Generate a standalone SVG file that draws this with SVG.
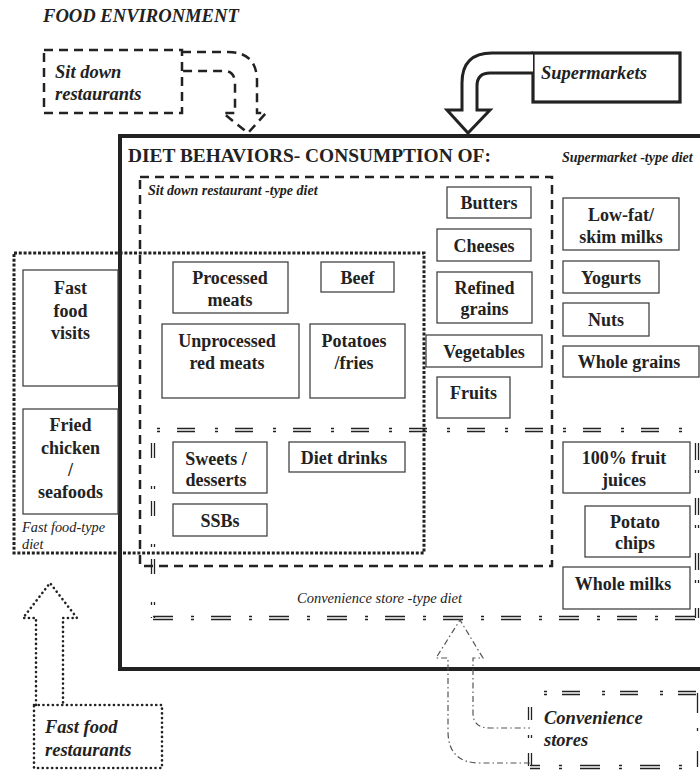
<svg xmlns="http://www.w3.org/2000/svg" width="700" height="771" viewBox="0 0 700 771" font-family="'Liberation Serif', 'DejaVu Serif', serif">
<style>
text{font-family:'Liberation Serif','DejaVu Serif',serif;fill:#222}
.n{font-size:18px;font-weight:bold;text-anchor:middle}
.src{font-size:18.5px;font-weight:bold;font-style:italic}
.lab{font-size:14px;font-weight:bold;font-style:italic}
.labr{font-size:14.5px;font-style:italic}
.box{fill:#fff;stroke:#444;stroke-width:1.3}
.dash{fill:none;stroke:#222;stroke-width:2.5;stroke-dasharray:9 6}
.sq{fill:none;stroke:#222;stroke-width:3;stroke-dasharray:3 1.8}
.rd{fill:none;stroke:#222;stroke-width:2.6;stroke-dasharray:0.1 4.6;stroke-linecap:round}
.dd{fill:none;stroke:#222;stroke-width:1.3}
.ddarrow{fill:none;stroke:#555;stroke-width:1.2;stroke-dasharray:6 3 1.5 3}
</style>

<text x="43" y="22" style="font-size:18.6px;font-weight:bold;font-style:italic">FOOD ENVIRONMENT</text>

<g id="diet-behaviors">
<path d="M700,136 L120,136 L120,669 L700,669" fill="none" stroke="#222" stroke-width="4"/>
<text x="128" y="162" style="font-size:19.4px;font-weight:bold">DIET BEHAVIORS- CONSUMPTION OF:</text>
<text x="562" y="162" class="lab">Supermarket  -type diet</text>
</g>

<g id="sitdown-diet">
<rect x="140" y="177" width="412" height="389" class="dash"/>
<text x="148" y="195" class="lab">Sit down restaurant  -type diet</text>
</g>

<g id="fastfood-diet">
<rect x="14" y="253" width="410" height="300" class="sq"/>
<text x="22" y="532" class="labr" style="font-size:14.3px">Fast food-type</text>
<text x="22" y="549" class="labr" style="font-size:14.3px">diet</text>
</g>

<g id="convenience-diet">
<line x1="157" y1="428.5" x2="697" y2="428.5" class="dd" stroke-dasharray="3 17 18 20"/>
<line x1="157" y1="431.5" x2="697" y2="431.5" class="dd" stroke-dasharray="3 17 18 20"/>
<line x1="153" y1="616.5" x2="698" y2="616.5" class="dd" stroke-dasharray="20 18 3 17"/>
<line x1="153" y1="619.5" x2="698" y2="619.5" class="dd" stroke-dasharray="20 18 3 17"/>
<line x1="151.5" y1="443" x2="151.5" y2="618" class="dd" stroke-dasharray="15 28 3 12"/>
<line x1="154.5" y1="443" x2="154.5" y2="618" class="dd" stroke-dasharray="15 28 3 12"/>
<line x1="695.5" y1="443" x2="695.5" y2="618" class="dd" stroke-dasharray="17 10 3 25"/>
<line x1="698.5" y1="443" x2="698.5" y2="618" class="dd" stroke-dasharray="17 10 3 25"/>
<text x="297" y="603" class="labr">Convenience store  -type diet</text>
</g>

<g id="sitdown-restaurants">
<rect x="44" y="50" width="138" height="63" class="dash"/>
<text x="55" y="78" class="src">Sit down</text>
<text x="55" y="100" class="src">restaurants</text>
</g>

<g id="supermarkets">
<rect x="533" y="53" width="147" height="49" fill="#fff" stroke="#222" stroke-width="3.2"/>
<text x="541" y="79" class="src">Supermarkets</text>
</g>

<g id="fastfood-restaurants">
<rect x="34" y="705" width="128" height="63" class="rd"/>
<text x="45" y="733" class="src">Fast food</text>
<text x="45" y="756" class="src">restaurants</text>
</g>

<g id="convenience-stores">
<line x1="544" y1="691.5" x2="699" y2="691.5" class="dd" stroke-dasharray="3 15 18 22"/>
<line x1="544" y1="694.5" x2="699" y2="694.5" class="dd" stroke-dasharray="3 15 18 22"/>
<line x1="530" y1="765.5" x2="699" y2="765.5" class="dd" stroke-dasharray="20 19 3 18" stroke-dashoffset="10"/>
<line x1="530" y1="768.5" x2="699" y2="768.5" class="dd" stroke-dasharray="20 19 3 18" stroke-dashoffset="10"/>
<line x1="528.5" y1="707" x2="528.5" y2="767" class="dd" stroke-dasharray="13 15 3 15"/>
<line x1="531.5" y1="707" x2="531.5" y2="767" class="dd" stroke-dasharray="13 15 3 15"/>
<line x1="697.5" y1="693" x2="697.5" y2="767" class="dd" stroke-dasharray="20 15 3 20"/>
<text x="544" y="724" class="src">Convenience</text>
<text x="544" y="746" class="src">stores</text>
</g>

<g id="connectors">
<path d="M182,52 L228,52 Q257,52 257,81 L257,113 L266,113 L248,133 L223,113 L235,113 L235,84 Q235,71 224,71 L182,71" class="dash"/>
<path d="M533,53 L492,53 Q462,53 462,83 L462,110 L447,110 L468,133 L490,110 L477,110 L477,86 Q477,73 490,73 L533,73" fill="#fff" stroke="#222" stroke-width="3"/>
<path d="M36,705 L36,618 L23,618 L50,583 L77,618 L63,618 L63,705" class="rd"/>
<path d="M530,763 L480,763 Q448,763 448,731 L448,658 L436,658 L460,620 L483,658 L473,658 L473,713 Q473,728 490,728 L530,728" class="ddarrow"/>
</g>

<g id="fast-food-visits"><rect x="23" y="270" width="95" height="116" class="box"/>
<text x="70.5" y="294" class="n">Fast</text><text x="70.5" y="317" class="n">food</text><text x="70.5" y="339" class="n">visits</text></g>
<g id="fried-chicken"><rect x="23" y="409" width="95" height="105" class="box"/>
<text x="70.5" y="431" class="n">Fried</text><text x="70.5" y="454" class="n">chicken</text><text x="70.5" y="476" class="n">/</text><text x="70.5" y="498" class="n">seafoods</text></g>

<g id="processed-meats"><rect x="173" y="262" width="115" height="51" class="box"/>
<text x="230" y="284" class="n">Processed</text><text x="230" y="306" class="n">meats</text></g>
<g id="beef"><rect x="321" y="262" width="73" height="30" class="box"/>
<text x="357.5" y="284" class="n">Beef</text></g>
<g id="unprocessed-red-meats"><rect x="162" y="324" width="137" height="74" class="box"/>
<text x="227" y="347" class="n">Unprocessed</text><text x="227" y="369" class="n">red meats</text></g>
<g id="potatoes-fries"><rect x="310" y="324" width="95" height="74" class="box"/>
<text x="354" y="347" class="n">Potatoes</text><text x="354" y="369" class="n">/fries</text></g>

<g id="butters"><rect x="447" y="187" width="84" height="31" class="box"/>
<text x="489" y="209" class="n">Butters</text></g>
<g id="cheeses"><rect x="437" y="229" width="94" height="32" class="box"/>
<text x="484" y="252" class="n">Cheeses</text></g>
<g id="refined-grains"><rect x="437" y="272" width="95" height="51" class="box"/>
<text x="484.5" y="294" class="n">Refined</text><text x="484.5" y="315" class="n">grains</text></g>
<g id="vegetables"><rect x="426" y="335" width="116" height="32" class="box"/>
<text x="484" y="358" class="n">Vegetables</text></g>
<g id="fruits"><rect x="437" y="377" width="73" height="41" class="box"/>
<text x="473.5" y="399" class="n">Fruits</text></g>

<g id="low-fat-milks"><rect x="563" y="198" width="116" height="52" class="box"/>
<text x="621" y="221" class="n">Low-fat/</text><text x="621" y="243" class="n">skim milks</text></g>
<g id="yogurts"><rect x="563" y="261" width="96" height="32" class="box"/>
<text x="611" y="284" class="n">Yogurts</text></g>
<g id="nuts"><rect x="563" y="303" width="86" height="33" class="box"/>
<text x="606" y="326" class="n">Nuts</text></g>
<g id="whole-grains"><rect x="563" y="346" width="136" height="31" class="box"/>
<text x="629" y="368" class="n">Whole grains</text></g>

<g id="sweets-desserts"><rect x="173" y="442" width="94" height="51" class="box"/>
<text x="216" y="465" class="n">Sweets /</text><text x="216" y="486" class="n">desserts</text></g>
<g id="diet-drinks"><rect x="289" y="442" width="116" height="30" class="box"/>
<text x="344" y="464" class="n">Diet drinks</text></g>
<g id="ssbs"><rect x="173" y="504" width="94" height="32" class="box"/>
<text x="220" y="527" class="n">SSBs</text></g>

<g id="fruit-juices"><rect x="563" y="442" width="127" height="51" class="box"/>
<text x="624" y="464" class="n">100% fruit</text><text x="624" y="486" class="n">juices</text></g>
<g id="potato-chips"><rect x="585" y="506" width="105" height="51" class="box"/>
<text x="635" y="528" class="n">Potato</text><text x="635" y="549" class="n">chips</text></g>
<g id="whole-milks"><rect x="563" y="567" width="127" height="42" class="box"/>
<text x="623" y="590" class="n">Whole milks</text></g>
</svg>
